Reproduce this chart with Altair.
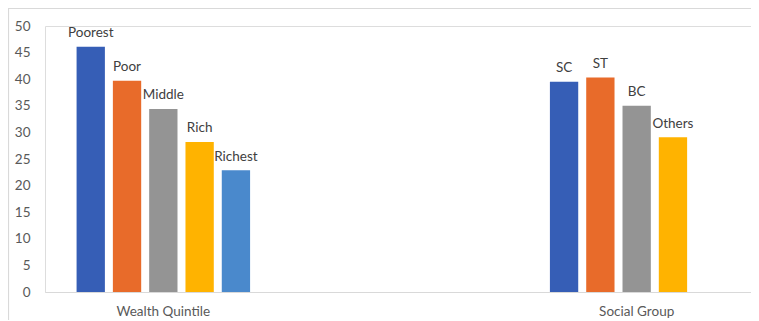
import altair as alt
import pandas as pd

groups = ["Wealth Quintile"] * 5 + ["Social Group"] * 4
slots = [1, 2, 3, 4, 5, 1, 2, 3, 4]
labels = ["Poorest", "Poor", "Middle", "Rich", "Richest", "SC", "ST", "BC", "Others"]
values = [46.1, 39.7, 34.4, 28.2, 22.9, 39.5, 40.3, 35.0, 29.1]
categories = ["Wealth Quintile", " ", "Social Group"]
slot_domain = [1, 2, 3, 4, 5]
slot_colors = ["#365EB6", "#E86B2A", "#949494", "#FFB300", "#4A89CC"]
y_ticks = list(range(0, 51, 5))

df = pd.DataFrame({"group": groups, "slot": slots, "label": labels, "value": values})

FONT = "Lato"

x_enc = alt.X(
    "group:N",
    scale=alt.Scale(domain=categories, paddingInner=0, paddingOuter=0, range=[0, 710]),
    sort=categories,
    axis=alt.Axis(title=None, labelAngle=0, ticks=False, domainColor="#d9d9d9",
                  domainWidth=1.2, labelPadding=12, labelFontSize=13.5,
                  labelColor="#595959", labelFont=FONT),
)
xoff_enc = alt.XOffset(
    "slot:O",
    scale=alt.Scale(domain=slot_domain, paddingInner=0.22, paddingOuter=0.87),
)
y_enc = alt.Y(
    "value:Q",
    scale=alt.Scale(domain=[0, 50], nice=False),
    axis=alt.Axis(values=y_ticks, title=None, domain=False, ticks=False, grid=False,
                  labelPadding=15, labelFontSize=13.5, labelColor="#595959",
                  labelFont=FONT),
)

base = alt.Chart(df)

bars = base.mark_bar().encode(
    x=x_enc,
    xOffset=xoff_enc,
    y=y_enc,
    color=alt.Color("slot:O", scale=alt.Scale(domain=slot_domain, range=slot_colors),
                    legend=None),
)

texts = base.mark_text(baseline="alphabetic", dy=-9.5, fontSize=13.5, font=FONT,
                       color="#404040").encode(
    x=x_enc,
    xOffset=xoff_enc,
    y=y_enc,
    text="label:N",
)

border_df = pd.DataFrame({"a": [0]})
border_top = alt.Chart(border_df).mark_rule(color="#d9d9d9", strokeWidth=1.2).encode(
    x=alt.value(-37), x2=alt.value(706), y=alt.value(-17.5)
)
border_left = alt.Chart(border_df).mark_rule(color="#d9d9d9", strokeWidth=1.2).encode(
    x=alt.value(-36.5), y=alt.value(-18), y2=alt.value(300)
)

chart = alt.layer(border_top, border_left, bars, texts).properties(
    width=706,
    height=266,
    autosize=alt.AutoSizeParams(type="none"),
    padding={"left": 37, "top": 18, "right": 0, "bottom": 28},
).configure_view(stroke="transparent", strokeWidth=0).configure(font=FONT)

chart.save("out.html", embed_options={"renderer": "svg", "actions": False})
